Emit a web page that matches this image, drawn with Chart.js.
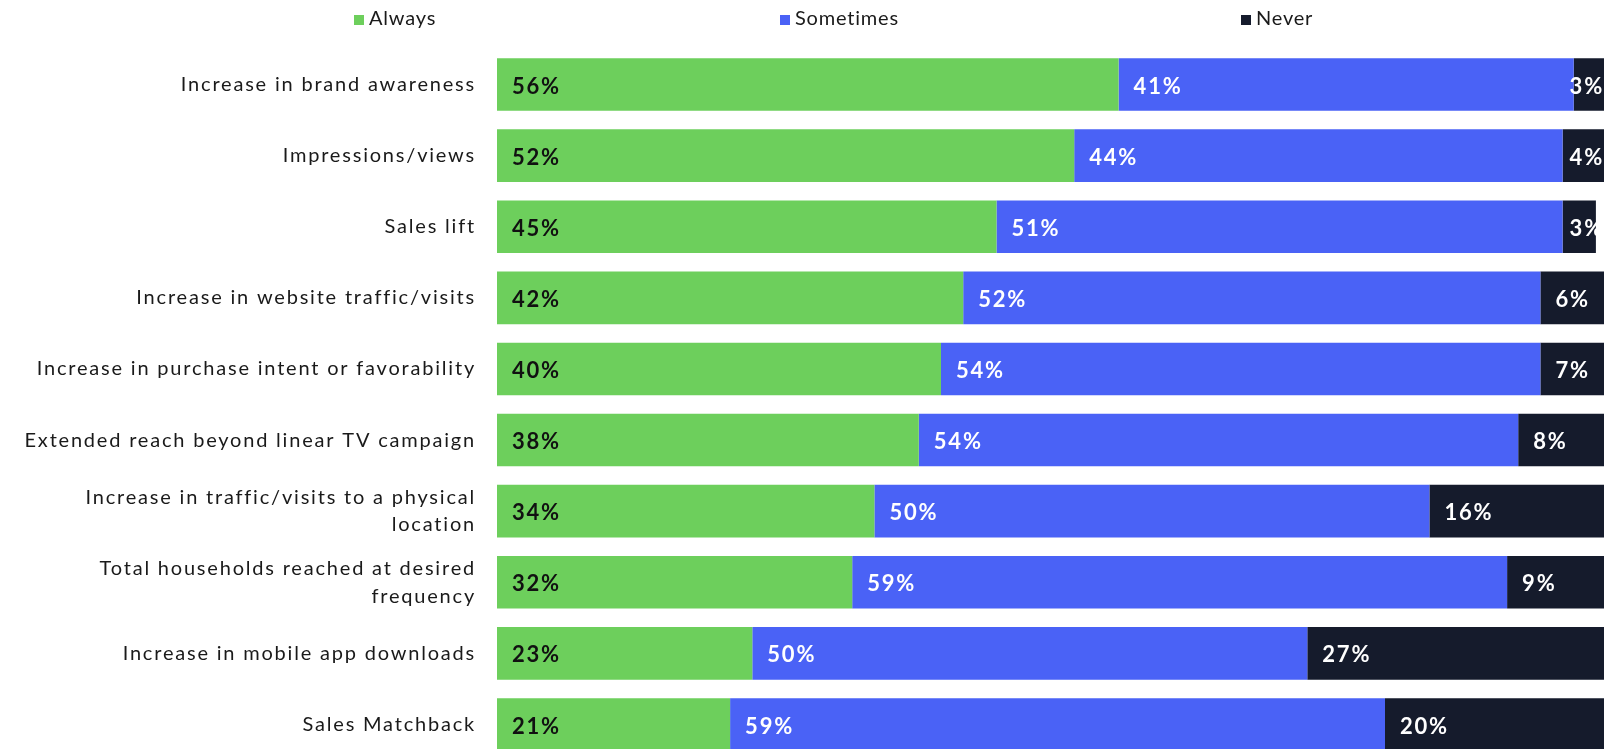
<!DOCTYPE html>
<html>
<head>
<meta charset="utf-8">
<script src="https://cdn.jsdelivr.net/npm/chart.js@4"></script>
<style>
    html, body { margin: 0; padding: 0; background: #fff; overflow: hidden; }
    #wrap { position: relative; width: 1607px; height: 760px; }
    #legend { position: absolute; top: 0; left: 0; width: 100%; height: 40px; font-family: Lato, sans-serif; font-size: 20px; letter-spacing: 0.8px; color: #1a1a1a; }
    .item { position: absolute; top: 5px; white-space: nowrap; }
    .item i { display: inline-block; width: 10px; height: 10px; margin-right: 5px; }
</style>
</head>
<body>
<div id="wrap">
    <canvas id="outcomes" width="1607" height="760"></canvas>
    <div id="legend"></div>
</div>
<script>
    let categories = [
        'Increase in brand awareness',
        'Impressions/views',
        'Sales lift',
        'Increase in website traffic/visits',
        'Increase in purchase intent or favorability',
        'Extended reach beyond linear TV campaign',
        ['Increase in traffic/visits to a physical', 'location'],
        ['Total households reached at desired', 'frequency'],
        'Increase in mobile app downloads',
        'Sales Matchback'
    ];
    let always = [56, 52, 45, 42, 40, 38, 34, 32, 23, 21];
    let sometimes = [41, 44, 51, 52, 54, 54, 50, 59, 50, 59];
    let never = [3, 4, 3, 6, 7, 8, 16, 9, 27, 20];
    let seriesNames = ['Always', 'Sometimes', 'Never'];
    let legendLeft = [354, 780, 1241];

    // wider tracking for every canvas text (measuring and drawing)
    let tracking = {
        id: 'tracking',
        beforeLayout(chart) { chart.ctx.letterSpacing = '1.8px'; },
        beforeDraw(chart) { chart.ctx.letterSpacing = '1.8px'; }
    };

    // percentage written inside each segment, pushed left if it would run off the end
    let segmentLabels = {
        id: 'segmentLabels',
        afterDatasetsDraw(chart) {
            let ctx = chart.ctx;
            let right = chart.chartArea.right;
            ctx.save();
            ctx.letterSpacing = '1.8px';
            ctx.font = 'bold 22px Lato';
            ctx.textBaseline = 'middle';
            chart.data.datasets.forEach((ds, i) => {
                chart.getDatasetMeta(i).data.forEach((bar, j) => {
                    let text = ds.data[j] + '%';
                    let w = ctx.measureText(text).width;
                    let x = Math.min(bar.base + 15, right - w - 3);
                    ctx.fillStyle = ds.labelColor;
                    ctx.fillText(text, x, bar.y + 2);
                });
            });
            ctx.restore();
        }
    };

    let ctx = document.getElementById('outcomes').getContext('2d');
    let chart = new Chart(ctx, {
        type: 'bar',
        data: {
            labels: categories,
            datasets: [
                { label: seriesNames[0], data: always, backgroundColor: '#6dcf5c', labelColor: '#111111' },
                { label: seriesNames[1], data: sometimes, backgroundColor: '#4a62f6', labelColor: '#ffffff' },
                { label: seriesNames[2], data: never, backgroundColor: '#151b2c', labelColor: '#ffffff' }
            ]
        },
        options: {
            indexAxis: 'y',
            responsive: false,
            animation: false,
            layout: { padding: { top: 49, right: 0, bottom: 0, left: 0 } },
            datasets: {
                bar: { categoryPercentage: 1, barPercentage: 0.74, borderWidth: 0 }
            },
            plugins: {
                legend: { display: false },
                tooltip: { enabled: false }
            },
            scales: {
                x: {
                    stacked: true,
                    min: 0,
                    max: 100,
                    display: false
                },
                y: {
                    stacked: true,
                    border: { display: false },
                    grid: { display: false, drawTicks: false },
                    afterFit: scale => {
                        scale.width = 497;
                        scale.paddingTop = 0;
                        scale.paddingBottom = 0;
                    },
                    ticks: {
                        padding: 21,
                        color: '#1a1a1a',
                        font: { family: 'Lato', size: 20, lineHeight: 1.38 }
                    }
                }
            }
        },
        plugins: [tracking, segmentLabels]
    });

    let legend = document.getElementById('legend');
    chart.data.datasets.forEach((ds, i) => {
        let item = document.createElement('span');
        item.className = 'item';
        item.style.left = legendLeft[i] + 'px';
        item.innerHTML = '<i style="background:' + ds.backgroundColor + '"></i>' + ds.label;
        legend.appendChild(item);
    });
</script>
</body>
</html>
